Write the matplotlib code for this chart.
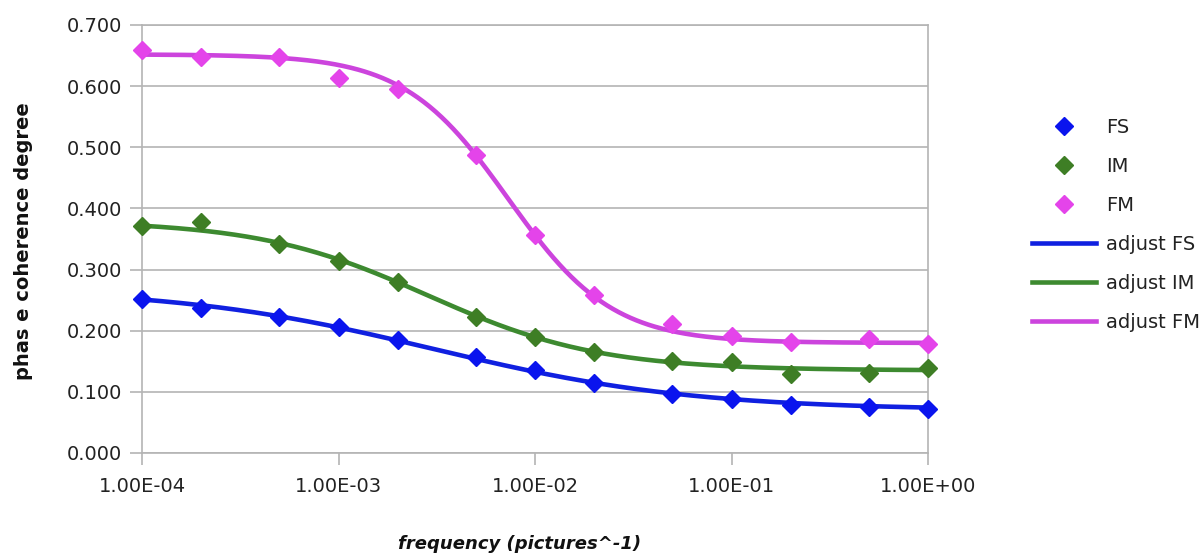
import numpy as np
import matplotlib
matplotlib.use("Agg")
import matplotlib.pyplot as plt
from matplotlib.ticker import FixedLocator, FuncFormatter, NullLocator

# ---- data ----
freq = [1e-4, 2e-4, 5e-4, 1e-3, 2e-3, 5e-3, 1e-2, 2e-2, 5e-2, 1e-1, 2e-1, 5e-1, 1.0]
fs = [0.252, 0.237, 0.222, 0.206, 0.184, 0.157, 0.136, 0.115, 0.096, 0.088, 0.079, 0.075, 0.072]
im = [0.371, 0.377, 0.342, 0.314, 0.279, 0.222, 0.189, 0.166, 0.150, 0.149, 0.129, 0.131, 0.139]
fm = [0.659, 0.647, 0.647, 0.613, 0.596, 0.487, 0.356, 0.259, 0.211, 0.192, 0.182, 0.187, 0.178]

# fitted ("adjust") logistic curves: top, bottom, midpoint frequency, slope
fit_fs = (0.270, 0.070, 3.06e-3, 0.66)
fit_im = (0.380, 0.135, 2.86e-3, 1.00)
fit_fm = (0.652, 0.180, 7.30e-3, 1.64)

x_ticks = [1e-4, 1e-3, 1e-2, 1e-1, 1.0]
y_ticks = [0.0, 0.1, 0.2, 0.3, 0.4, 0.5, 0.6, 0.7]

plt.rcParams['font.family'] = ['DejaVu Sans']

def logistic(x, p):
    top, bot, x0, n = p
    return bot + (top - bot) / (1.0 + (x / x0) ** n)

fig = plt.figure(figsize=(12.03, 5.53), dpi=100)
ax = fig.add_axes([142/1203, 1-453/553, (928-142)/1203, (453-25)/553])

grid_c = '#b4b4b4'
c_fs_m, c_im_m, c_fm_m = '#0a14ee', '#3e7e25', '#e444ea'
c_fs_l, c_im_l, c_fm_l = '#1020e0', '#3d8a30', '#cc44dd'

xs = np.logspace(-4, 0, 400)
ax.set_xscale('log')

mk = dict(marker='D', linestyle='none', markersize=9.5, clip_on=False, zorder=4)
h1, = ax.plot(freq, fs, color=c_fs_m, label='FS', **mk)
h2, = ax.plot(freq, im, color=c_im_m, label='IM', **mk)
h3, = ax.plot(freq, fm, color=c_fm_m, label='FM', **mk)
h4, = ax.plot(xs, logistic(xs, fit_fs), color=c_fs_l, lw=3.3, label='adjust FS', zorder=3, clip_on=False)
h5, = ax.plot(xs, logistic(xs, fit_im), color=c_im_l, lw=3.3, label='adjust IM', zorder=3, clip_on=False)
h6, = ax.plot(xs, logistic(xs, fit_fm), color=c_fm_l, lw=3.3, label='adjust FM', zorder=3, clip_on=False)

ax.set_xlim(1e-4, 1.0)
ax.set_ylim(0, 0.7)
ax.xaxis.set_major_locator(FixedLocator(x_ticks))
ax.xaxis.set_minor_locator(NullLocator())
ax.xaxis.set_major_formatter(FuncFormatter(lambda v, p: f"{v:.2E}"))
ax.yaxis.set_major_locator(FixedLocator(y_ticks))
ax.yaxis.set_major_formatter(FuncFormatter(lambda v, p: f"{v:.3f}"))

ax.grid(axis='y', color=grid_c, linewidth=1.2)
ax.set_axisbelow(True)
for s in ax.spines.values():
    s.set_color(grid_c)
    s.set_linewidth(1.2)
ax.tick_params(axis='both', which='major', length=8.6, width=1.2, color=grid_c,
               labelsize=14, labelcolor='#222222')
ax.tick_params(axis='x', pad=9)
ax.tick_params(axis='y', pad=5.5)

fig.text(24/1203, 1-241.5/553, 'phas e coherence degree', rotation=90,
         ha='center', va='center', fontsize=14, fontweight='bold', color='#111111')
fig.text(520/1203, 1-549/553, 'frequency (pictures^-1)', ha='center', va='baseline',
         fontsize=13, fontweight='bold', fontstyle='italic', color='#111111')

leg = fig.legend(handles=[h1, h2, h3, h4, h5, h6], loc='center left',
                 bbox_to_anchor=(1032/1203, 1-225/553), bbox_transform=fig.transFigure,
                 frameon=False, fontsize=14, handlelength=3.3, handletextpad=0.5,
                 labelspacing=1.03, borderaxespad=0, borderpad=0)
for t in leg.get_texts():
    t.set_color('#222222')

fig.savefig('out.png', dpi=100)
